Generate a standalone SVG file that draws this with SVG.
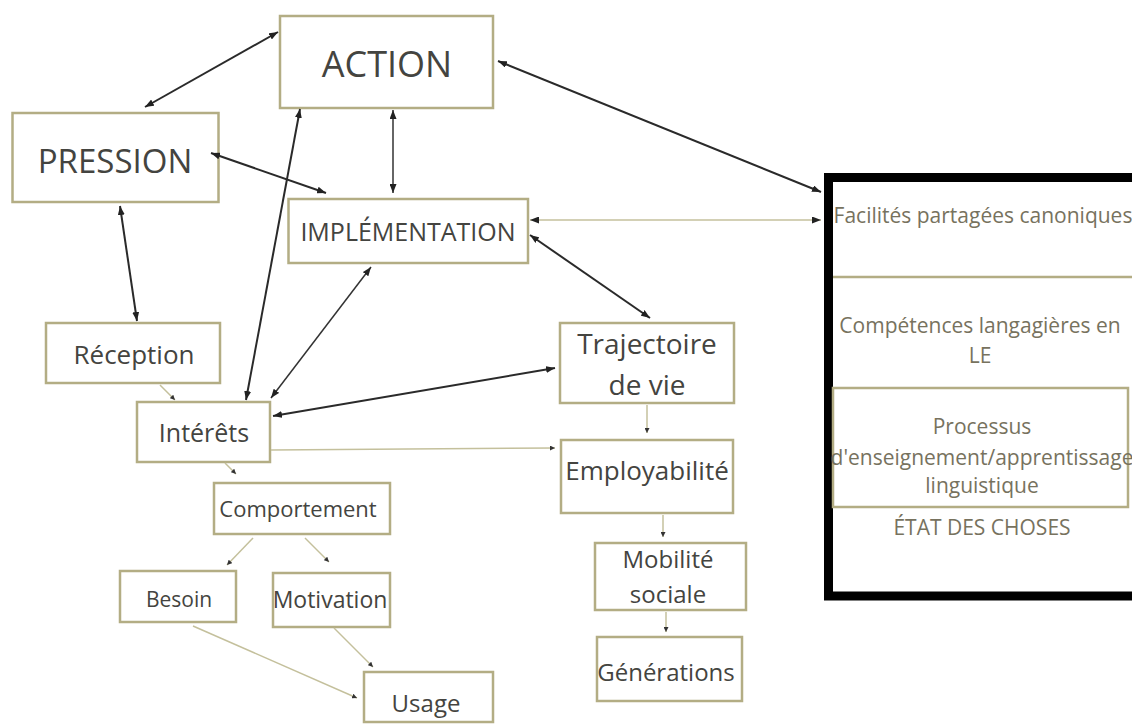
<svg xmlns="http://www.w3.org/2000/svg" width="1132" height="725" viewBox="0 0 1132 725">
<defs>
<style>
.box{fill:#fff;stroke:#b3ad84;stroke-width:2.5}
.t{font-family:"Open Sans","DejaVu Sans",sans-serif;fill:#444440;text-anchor:middle}
.tr{font-family:"Open Sans","DejaVu Sans",sans-serif;fill:#77725e;text-anchor:middle;font-size:21px}
.thick{stroke:#2a2a2a;stroke-width:2;fill:none}
.med{stroke:#333;stroke-width:1.5;fill:none}
.thin{stroke:#c4c09c;stroke-width:1.5;fill:none}
</style>
<marker id="ah" markerUnits="userSpaceOnUse" markerWidth="9" markerHeight="7" refX="9" refY="3.5" orient="auto-start-reverse"><path d="M0,0 L9,3.5 L0,7 z" fill="#222"/></marker>
<marker id="sm" markerUnits="userSpaceOnUse" markerWidth="5" markerHeight="5" refX="5" refY="2.5" orient="auto"><path d="M0,0 L5,2.5 L0,5 z" fill="#333"/></marker>
</defs>
<rect width="1132" height="725" fill="#fff"/>

<g id="action"><rect class="box" x="280" y="16" width="213" height="92"/><text class="t" x="387" y="77" font-size="36">ACTION</text></g>
<g id="pression"><rect class="box" x="12.5" y="113" width="206" height="89"/><text class="t" x="115" y="173" font-size="33">PRESSION</text></g>
<g id="implementation"><rect class="box" x="288.5" y="199" width="239.5" height="64"/><text class="t" x="408" y="241" font-size="25">IMPLÉMENTATION</text></g>
<g id="reception"><rect class="box" x="46" y="323" width="174" height="60"/><text class="t" x="134" y="364" font-size="26">Réception</text></g>
<g id="interets"><rect class="box" x="137" y="402" width="133" height="60"/><text class="t" x="204" y="442" font-size="25">Intérêts</text></g>
<g id="comportement"><rect class="box" x="214" y="483" width="176" height="51"/><text class="t" x="298" y="517" font-size="22">Comportement</text></g>
<g id="besoin"><rect class="box" x="120" y="571" width="116" height="51"/><text class="t" x="179" y="607" font-size="21">Besoin</text></g>
<g id="motivation"><rect class="box" x="273" y="573" width="117" height="54"/><text class="t" x="330" y="608" font-size="23">Motivation</text></g>
<g id="usage"><rect class="box" x="364" y="672" width="129" height="50"/><text class="t" x="426" y="712" font-size="24">Usage</text></g>
<g id="trajectoire"><rect class="box" x="560" y="323" width="174" height="80"/><text class="t" x="647" y="354" font-size="28">Trajectoire</text><text class="t" x="647" y="395" font-size="28">de vie</text></g>
<g id="employabilite"><rect class="box" x="561" y="440" width="172" height="73"/><text class="t" x="647" y="480" font-size="26">Employabilité</text></g>
<g id="mobilite"><rect class="box" x="595" y="543" width="151" height="67"/><text class="t" x="668" y="568" font-size="24">Mobilité</text><text class="t" x="668" y="603" font-size="24">sociale</text></g>
<g id="generations"><rect class="box" x="597" y="637" width="145" height="64"/><text class="t" x="666" y="681" font-size="24">Générations</text></g>

<g id="etat">
<rect x="828.5" y="177.5" width="320" height="418.5" fill="#fff" stroke="#000" stroke-width="9"/>
<line x1="833" y1="277" x2="1132" y2="277" stroke="#b3ad84" stroke-width="2.5"/>
<rect x="833" y="388" width="295" height="119" fill="none" stroke="#b3ad84" stroke-width="2.5"/>
<text class="tr" x="983" y="223">Facilités partagées canoniques</text>
<text class="tr" x="980" y="333">Compétences langagières en</text>
<text class="tr" x="980" y="363">LE</text>
<text class="tr" x="982" y="434">Processus</text>
<text class="tr" x="982" y="465">d'enseignement/apprentissage</text>
<text class="tr" x="982" y="493">linguistique</text>
<text class="tr" x="982" y="535">ÉTAT DES CHOSES</text>
</g>

<g id="connectors">
<line class="thick" x1="278" y1="32" x2="145" y2="107" marker-start="url(#ah)" marker-end="url(#ah)"/>
<line class="thick" x1="211" y1="153" x2="326" y2="193" marker-start="url(#ah)" marker-end="url(#ah)"/>
<line class="med" x1="393" y1="110" x2="393" y2="193" marker-start="url(#ah)" marker-end="url(#ah)"/>
<line class="thick" x1="300" y1="109" x2="246" y2="400" marker-start="url(#ah)" marker-end="url(#ah)"/>
<line class="thick" x1="120" y1="206" x2="137" y2="321" marker-start="url(#ah)" marker-end="url(#ah)"/>
<line class="med" x1="371" y1="267" x2="271" y2="398" marker-start="url(#ah)" marker-end="url(#ah)"/>
<line class="thick" x1="498" y1="61" x2="821" y2="192" marker-start="url(#ah)" marker-end="url(#ah)"/>
<line class="thin" x1="530" y1="220" x2="821" y2="220" marker-start="url(#ah)" marker-end="url(#ah)"/>
<line class="thick" x1="530" y1="235" x2="650" y2="318" marker-start="url(#ah)" marker-end="url(#ah)"/>
<line class="thick" x1="273" y1="416" x2="555" y2="368" stroke-width="2.5" marker-start="url(#ah)" marker-end="url(#ah)"/>
<line class="thin" x1="271" y1="450" x2="555" y2="448" marker-end="url(#sm)"/>
<line class="thin" x1="160" y1="385" x2="175" y2="400" marker-end="url(#sm)"/>
<line class="thin" x1="225" y1="463" x2="236" y2="474" marker-end="url(#sm)"/>
<line class="thin" x1="253" y1="538" x2="227" y2="565" marker-end="url(#sm)"/>
<line class="thin" x1="305" y1="538" x2="329" y2="562" marker-end="url(#sm)"/>
<line class="thin" x1="193" y1="626" x2="357" y2="698" marker-end="url(#sm)"/>
<line class="thin" x1="334" y1="628" x2="373" y2="667" marker-end="url(#sm)"/>
<line class="thin" x1="647" y1="405" x2="647" y2="433" marker-end="url(#sm)"/>
<line class="thin" x1="663" y1="515" x2="663" y2="537" marker-end="url(#sm)"/>
<line class="thin" x1="666" y1="612" x2="666" y2="632" marker-end="url(#sm)"/>
</g>
</svg>
